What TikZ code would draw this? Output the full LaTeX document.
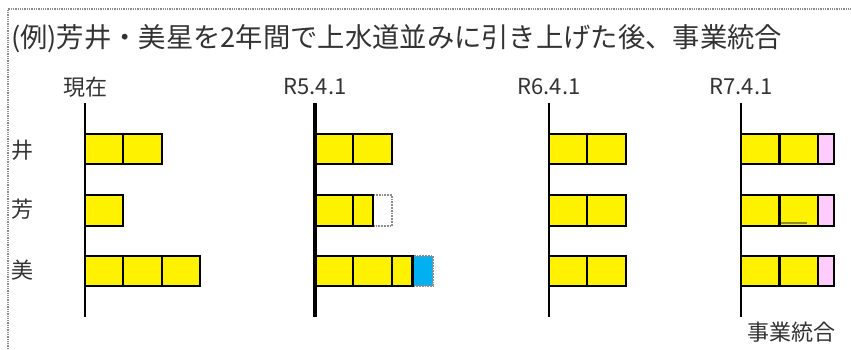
\documentclass[tikz,border=0pt]{standalone}
\usepackage{fontspec}
\setmainfont{Noto Sans CJK JP}
\definecolor{txt}{HTML}{333333}
\definecolor{cyanfill}{HTML}{00B0F0}
\definecolor{pinkfill}{HTML}{FFCCFF}
\definecolor{framegray}{HTML}{8C8C8C}
\begin{document}
\begin{tikzpicture}[x=1pt,y=-1pt,
  cell/.style={draw=black,line width=2.5pt,fill=yellow},
  extra/.style={draw=framegray,line width=1.8pt,densely dotted},
  pinkcell/.style={draw=black,line width=2.5pt,fill=pinkfill},
  lbl/.style={text=txt,font=\fontsize{22}{26}\selectfont,inner sep=0pt},
  tline/.style={draw=black,line cap=butt}]
\useasboundingbox (0,0) rectangle (851,349);
\fill[white] (0,0) rectangle (851,349);
% frame
\draw[framegray,line width=1.3pt,densely dotted] (8,349) -- (8,9) -- (851,9);
% title
\node[lbl,anchor=west,font=\fontsize{27.3}{31}\selectfont] (title) at (11,39) {(例)芳井・美星を2年間で上水道並みに引き上げた後、事業統合};
% column labels
\node[lbl] (c0) at (85,87) {現在};
\node[lbl] (c1) at (315,87) {R5.4.1};
\node[lbl] (c2) at (549,87) {R6.4.1};
\node[lbl] (c3) at (741,87) {R7.4.1};
% row labels
\node[lbl] (r1) at (23,150) {井};
\node[lbl] (r2) at (23,209) {芳};
\node[lbl] (r3) at (23,270) {美};
% bottom label
\node[lbl] (merge) at (791,332) {事業統合};
% column 0
\draw[cell] (85,134) rectangle (123,164);
\draw[cell] (123,134) rectangle (162,164);
\draw[cell] (85,195) rectangle (123,226);
\draw[cell] (85,256) rectangle (123,286);
\draw[cell] (123,256) rectangle (162,286);
\draw[cell] (162,256) rectangle (200,286);
% column 1
\draw[extra,fill=white] (373,195) rectangle (392,226);
\draw[cell] (316,134) rectangle (353,164);
\draw[cell] (353,134) rectangle (392,164);
\draw[cell] (316,195) rectangle (353,226);
\draw[cell] (353,195) rectangle (373,226);
\draw[extra,fill=cyanfill] (412.5,256) rectangle (433,286);
\draw[cell] (316,256) rectangle (353,286);
\draw[cell] (353,256) rectangle (392,286);
\draw[cell] (392,256) rectangle (412.5,286);
% column 2
\foreach \ya/\yb in {134/164,195/226,256/286}{
  \draw[cell] (549,\ya) rectangle (587,\yb);
  \draw[cell] (587,\ya) rectangle (626,\yb);
}
% column 3
\foreach \ya/\yb in {134/164,195/226,256/286}{
  \draw[cell] (741,\ya) rectangle (779.5,\yb);
  \draw[cell] (779.5,\ya) rectangle (818,\yb);
  \draw[pinkcell] (818,\ya) rectangle (834,\yb);
}
\draw[olive!70!gray,line width=1.3pt] (781,223) -- (807,223);
% timelines
\coordinate (t0a) at (85,103);  \coordinate (t0b) at (85,317);
\coordinate (t1a) at (315,103); \coordinate (t1b) at (315,317);
\coordinate (t2a) at (549,103); \coordinate (t2b) at (549,317);
\coordinate (t3a) at (741,103); \coordinate (t3b) at (741,317);
\draw[tline,line width=1.6pt] (t0a) -- (t0b);
\draw[tline,line width=4.2pt] (t1a) -- (t1b);
\draw[tline,line width=2pt] (t2a) -- (t2b);
\draw[tline,line width=2pt] (t3a) -- (t3b);
\end{tikzpicture}
\end{document}
